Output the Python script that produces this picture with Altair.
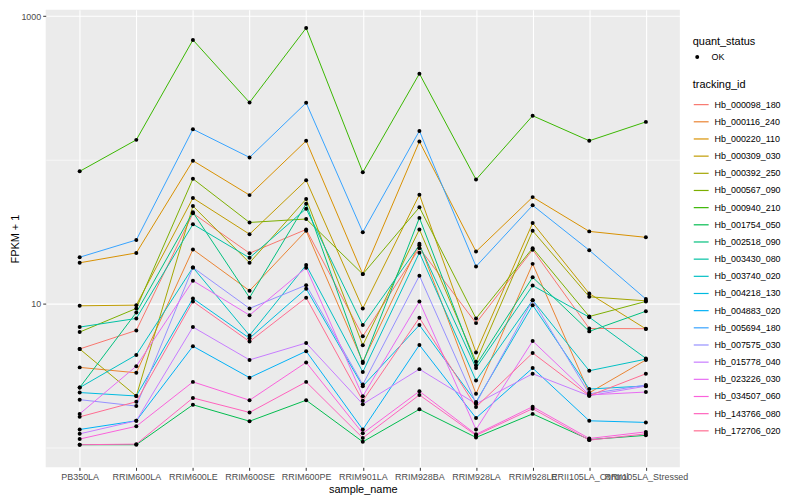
import altair as alt
import pandas as pd

samples = ["PB350LA", "RRIM600LA", "RRIM600LE", "RRIM600SE", "RRIM600PE", "RRIM901LA",
           "RRIM928BA", "RRIM928LA", "RRIM928LE", "RRII105LA_Control", "RRII105LA_Stressed"]

tracking_ids = ["Hb_000098_180", "Hb_000116_240", "Hb_000220_110", "Hb_000309_030",
                "Hb_000392_250", "Hb_000567_090", "Hb_000940_210", "Hb_001754_050",
                "Hb_002518_090", "Hb_003430_080", "Hb_003740_020", "Hb_004218_130",
                "Hb_004883_020", "Hb_005694_180", "Hb_007575_030", "Hb_015778_040",
                "Hb_023226_030", "Hb_034507_060", "Hb_143766_080", "Hb_172706_020"]

colors = ["#F8766D", "#EA8331", "#D89000", "#C09B00", "#A3A500", "#7CAE00", "#39B600",
          "#00BB4E", "#00BF7D", "#00C1A3", "#00BFC4", "#00BAE0", "#00B0F6", "#35A2FF",
          "#9590FF", "#C77CFF", "#E76BF3", "#FA62DB", "#FF62BC", "#FF6C91"]

# FPKM + 1 per sample, one list per tracking_id
hb_000098_180 = [4.86, 6.54, 42.6, 22.5, 32.9, 5.95, 24.4, 7.35, 23.8, 6.75, 6.72]
hb_000116_240 = [3.62, 3.32, 23.9, 12.35, 32.2, 3.96, 26.2, 2.37, 18.97, 2.41, 4.08]
hb_000220_110 = [19.3, 22.6, 98.9, 57.0, 135.9, 16.1, 134.4, 23.1, 55.2, 31.9, 29.0]
hb_000309_030 = [9.7, 9.8, 54.4, 30.5, 72.3, 9.3, 57.4, 4.6, 36.5, 11.8, 6.7]
hb_000392_250 = [4.86, 2.29, 47.9, 19.3, 53.5, 5.16, 32.9, 3.96, 32.2, 11.2, 10.5]
hb_000567_090 = [6.37, 9.3, 74.0, 36.8, 38.9, 16.1, 46.9, 7.92, 24.4, 8.17, 10.4]
hb_000940_210 = [83.4, 138, 683, 251, 826, 82.1, 398, 73.1, 203, 136, 184]
hb_001754_050 = [1.05, 1.05, 1.99, 1.53, 2.14, 1.10, 1.85, 1.18, 1.72, 1.14, 1.22]
hb_002518_090 = [2.62, 8.71, 43.3, 11.05, 49.7, 3.88, 39.6, 3.75, 15.3, 6.44, 8.89]
hb_003430_080 = [6.90, 7.92, 35.8, 20.9, 45.9, 7.12, 25.6, 3.58, 13.4, 8.08, 4.18]
hb_003740_020 = [2.62, 4.42, 17.9, 6.04, 18.6, 3.36, 22.7, 2.93, 10.6, 3.43, 4.13]
hb_004218_130 = [2.42, 2.29, 10.9, 5.77, 12.75, 2.68, 7.12, 2.08, 9.8, 2.56, 2.69]
hb_004883_020 = [1.34, 1.54, 5.08, 3.07, 4.69, 1.34, 5.18, 1.61, 3.58, 1.54, 1.50]
hb_005694_180 = [21.1, 27.8, 163.6, 104.2, 249.6, 31.5, 159.2, 18.2, 48.4, 23.6, 10.8]
hb_007575_030 = [2.16, 1.95, 17.9, 9.3, 13.5, 2.75, 15.7, 2.04, 10.6, 2.37, 2.73]
hb_015778_040 = [1.25, 1.54, 6.90, 4.08, 5.35, 2.01, 3.52, 2.02, 3.27, 2.30, 2.68]
hb_023226_030 = [1.72, 3.69, 14.5, 8.34, 17.8, 2.28, 10.4, 1.34, 5.52, 2.33, 2.44]
hb_034507_060 = [1.15, 1.41, 2.87, 2.14, 3.92, 1.26, 2.47, 1.24, 1.93, 1.16, 1.29]
hb_143766_080 = [1.05, 1.06, 2.22, 1.76, 2.87, 1.17, 2.33, 1.22, 1.87, 1.13, 1.25]
hb_172706_020 = [1.64, 2.09, 10.4, 5.47, 11.05, 2.12, 8.0, 1.92, 4.56, 2.30, 3.27]

series = [hb_000098_180, hb_000116_240, hb_000220_110, hb_000309_030, hb_000392_250,
          hb_000567_090, hb_000940_210, hb_001754_050, hb_002518_090, hb_003430_080,
          hb_003740_020, hb_004218_130, hb_004883_020, hb_005694_180, hb_007575_030,
          hb_015778_040, hb_023226_030, hb_034507_060, hb_143766_080, hb_172706_020]

rows = []
for tid, vals in zip(tracking_ids, series):
    for s, v in zip(samples, vals):
        rows.append({"tracking_id": tid, "sample_name": s, "fpkm1": v, "quant_status": "OK"})
df = pd.DataFrame(rows)

FONT = "Liberation Sans"
MAJOR = "datum.value == 10 || datum.value == 1000"

x_enc = alt.X("sample_name:N", sort=samples, title="sample_name",
              scale=alt.Scale(type="point", padding=0.6),
              axis=alt.Axis(labelAngle=0, labelFontSize=9, labelColor="#4D4D4D",
                            tickColor="#333333", tickSize=3, domain=False,
                            grid=True, gridColor="white", gridWidth=1.1,
                            labelPadding=2, titlePadding=2, titleFontSize=11,
                            titleFontWeight="normal", titleColor="black"))

y_enc = alt.Y("fpkm1:Q", title="FPKM + 1",
              scale=alt.Scale(type="log", domain=[0.731, 1105], nice=False),
              axis=alt.Axis(values=[1, 10, 100, 1000],
                            labelExpr="datum.value == 10 ? '10' : (datum.value == 1000 ? '1000' : '')",
                            labelFontSize=9, labelColor="#4D4D4D",
                            tickColor="#333333", tickSize=3, domain=False,
                            tickOpacity={"condition": {"test": MAJOR, "value": 1}, "value": 0},
                            grid=True, gridColor="white",
                            gridWidth={"condition": {"test": MAJOR, "value": 1.1}, "value": 0.6},
                            labelPadding=2, titlePadding=0, titleFontSize=11,
                            titleFontWeight="normal", titleColor="black"))

lines = alt.Chart(df).mark_line(strokeWidth=1).encode(
    x=x_enc,
    y=y_enc,
    color=alt.Color("tracking_id:N",
                    scale=alt.Scale(domain=tracking_ids, range=colors),
                    legend=alt.Legend(title="tracking_id", orient="none", legendX=652, legendY=70,
                                      symbolType="stroke", symbolSize=225, symbolStrokeWidth=1.2,
                                      rowPadding=3.3, labelOffset=5, labelFontSize=9,
                                      titleFontSize=11, titleFontWeight="normal",
                                      titlePadding=6)),
    detail="tracking_id:N",
)

points = alt.Chart(df).mark_point(filled=True, color="black", size=16, opacity=1).encode(
    x=alt.X("sample_name:N", sort=samples),
    y=alt.Y("fpkm1:Q"),
    shape=alt.Shape("quant_status:N", scale=alt.Scale(range=["circle"]),
                    legend=alt.Legend(title="quant_status", orient="none", legendX=652, legendY=26,
                                      symbolFillColor="black", symbolStrokeColor="black",
                                      symbolSize=16, labelFontSize=9, titleFontSize=11,
                                      titleFontWeight="normal", labelOffset=10, titlePadding=6)),
)

chart = alt.layer(lines, points).properties(
    width=639, height=461,
    autosize=alt.AutoSizeParams(type="none"),
    padding={"left": 38, "top": 0, "right": 113, "bottom": 28},
).configure(
    font=FONT,
    background="white",
).configure_view(
    fill="#EBEBEB", stroke=None, strokeWidth=0,
).configure_legend(
    labelColor="black", titleColor="black", labelFont=FONT, titleFont=FONT, padding=0,
).configure_axis(
    labelFont=FONT, titleFont=FONT,
)

chart.save("out.html", embed_options={"renderer": "svg", "actions": False})
